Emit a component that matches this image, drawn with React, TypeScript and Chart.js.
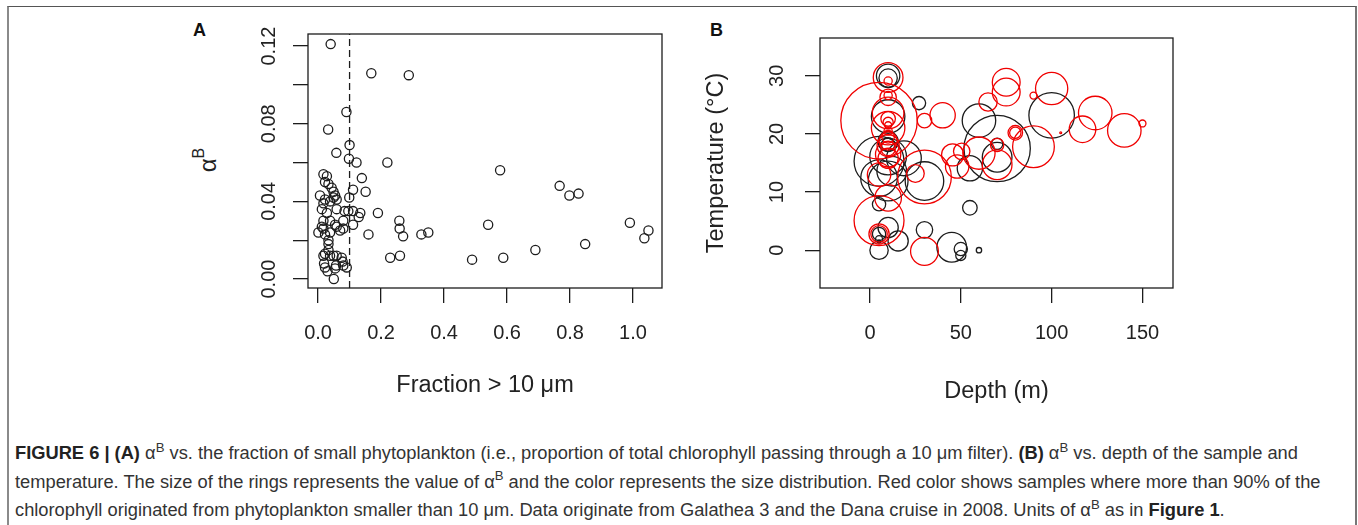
import React, { useEffect, useRef } from 'react';
import { Chart, registerables } from 'chart.js';

Chart.register(...registerables);

// ---------- Panel A data: fraction > 10 µm vs alpha^B ----------
const fractionA = [
  0.040, 0.169, 0.288, 0.090, 0.032, 0.100, 0.058, 0.098, 0.122, 0.220,
  0.578, 0.139, 0.767, 0.798, 0.827, 0.151, 0.111, 0.099, 0.190, 0.134,
  0.129, 0.111, 0.111, 0.160, 0.258, 0.259, 0.270, 0.328, 0.350, 0.229,
  0.260, 0.489, 0.540, 0.588, 0.690, 0.848, 0.990, 1.049, 1.036, 0.091,
  0.078, 0.050, 0.030, 0.057, 0.019, 0.080, 0.084,
  0.017, 0.028, 0.022, 0.033, 0.043, 0.049, 0.054, 0.049, 0.006, 0.022,
  0.038, 0.017, 0.059, 0.012, 0.028, 0.059, 0.096, 0.017, 0.038, 0.054,
  0.012, 0.017, 0.001, 0.038, 0.070, 0.080, 0.059, 0.022, 0.033, 0.033,
  0.033, 0.022, 0.038, 0.017, 0.049, 0.059, 0.075, 0.080, 0.022, 0.054,
];
const alphaA = [
  0.121, 0.106, 0.105, 0.086, 0.077, 0.069, 0.065, 0.062, 0.060, 0.060,
  0.056, 0.052, 0.048, 0.043, 0.044, 0.045, 0.046, 0.042, 0.034, 0.034,
  0.032, 0.035, 0.028, 0.023, 0.030, 0.026, 0.022, 0.023, 0.024, 0.011,
  0.012, 0.010, 0.028, 0.011, 0.015, 0.018, 0.029, 0.025, 0.021, 0.006,
  0.009, 0.000, 0.004, 0.007, 0.008, 0.030, 0.035,
  0.054, 0.053, 0.050, 0.049, 0.047, 0.045, 0.043, 0.042, 0.043, 0.041,
  0.040, 0.039, 0.041, 0.036, 0.034, 0.036, 0.035, 0.030, 0.030, 0.028,
  0.027, 0.026, 0.024, 0.024, 0.025, 0.026, 0.027, 0.023, 0.020, 0.018,
  0.015, 0.013, 0.012, 0.012, 0.012, 0.012, 0.011, 0.007, 0.006, 0.0055,
];
const cutoffA = 0.1;

// ---------- Panel B data: depth vs temperature, ring = alpha^B ----------
// red: > 90 % of chlorophyll from phytoplankton < 10 µm
const depthRed = [
  5, 10, 10, 10, 10, 10, 10, 10, 10, 10,
  10, 10, 10, 10, 10, 10, 10, 5, 25, 30,
  10, 5, 5, 5, 30, 30, 40, 65, 75, 75,
  90, 100, 124, 117, 140, 150, 80, 80, 90, 70,
  70, 60, 48, 45.5, 50.5, 105,
];
const tempRed = [
  22.3, 29.7, 29.1, 26.3, 26.6, 23.6, 22.6, 22.0, 21.5, 21.0,
  20.5, 19.5, 18.8, 18.0, 17.5, 16.5, 15.8, 13.0, 13.2, 12.6,
  9.0, 5.1, 2.8, 2.8, -0.2, 22.3, 23.2, 25.5, 28.9, 27.2,
  26.6, 27.8, 23.6, 20.8, 20.6, 21.8, 20.2, 20.2, 17.8, 18.1,
  14.7, 16.7, 14.4, 16.4, 17.0, 20.2,
];
const alphaRed = [
  0.121, 0.047, 0.013, 0.026, 0.013, 0.050, 0.023, 0.016, 0.011, 0.053,
  0.013, 0.020, 0.029, 0.035, 0.023, 0.040, 0.032, 0.037, 0.028, 0.085,
  0.042, 0.079, 0.032, 0.026, 0.044, 0.023, 0.040, 0.029, 0.044, 0.044,
  0.011, 0.051, 0.053, 0.042, 0.053, 0.011, 0.023, 0.018, 0.066, 0.021,
  0.047, 0.051, 0.037, 0.035, 0.026, 0.003,
];
const depthBlack = [
  10, 10, 27, 10, 10, 10, 5, 10, 12, 5,
  10, 18.7, 30, 5, 10, 15.5, 5, 5, 5, 5,
  30, 45, 50, 50, 60, 55, 55, 60, 70, 70,
  70, 100,
];
const tempBlack = [
  30.0, 29.6, 25.3, 23.0, 18.7, 18.2, 15.3, 16.1, 13.6, 12.4,
  11.9, 15.8, 11.9, 7.9, 3.9, 1.6, 0.0, 2.8, 1.9, 1.5,
  3.5, 0.5, 0.2, -0.9, 0.0, 7.3, 14.1, 22.3, 17.5, 16.0,
  18.3, 23.2,
];
const alphaBlack = [
  0.037, 0.029, 0.021, 0.053, 0.032, 0.021, 0.079, 0.058, 0.047, 0.058,
  0.063, 0.055, 0.061, 0.021, 0.032, 0.032, 0.029, 0.021, 0.011, 0.005,
  0.026, 0.047, 0.021, 0.016, 0.0085, 0.023, 0.040, 0.053, 0.105, 0.047,
  0.018, 0.072,
];

// ---------- ticks ----------
const aXTicks = [0, 0.2, 0.4, 0.6, 0.8, 1.0];
const aXLabels = ['0.0', '0.2', '0.4', '0.6', '0.8', '1.0'];
const aYTicks = [0, 0.02, 0.04, 0.06, 0.08, 0.1, 0.12];
const aYLabels = ['0.00', '', '0.04', '', '0.08', '', '0.12'];
const bXTicks = [0, 50, 100, 150];
const bXLabels = ['0', '50', '100', '150'];
const bYTicks = [0, 10, 20, 30];
const bYLabels = ['0', '10', '20', '30'];

const aXRange = [-0.032, 1.092];
const aYRange = [-0.0046, 0.1262];
const bXRange = [-27.5, 166.8];
const bYRange = [-6.5, 36.5];

// ---------- styles ----------
const FONT = '"Liberation Sans", Arial, Helvetica, sans-serif';
const INK = '#1c1c1c';
const RED = '#f00000';
const RING_SCALE = 316; // px of ring radius per unit of alpha^B
const LW = 1.3;

const boxPlugin = {
  id: 'rbox',
  afterDatasetsDraw(chart: any) {
    const { ctx, chartArea: a } = chart;
    ctx.save();
    ctx.strokeStyle = INK;
    ctx.lineWidth = LW;
    ctx.strokeRect(a.left, a.top, a.right - a.left, a.bottom - a.top);
    ctx.restore();
  },
};

function makeScale(
  range: number[],
  tickValues: number[],
  tickLabels: string[],
  size: number,
  tickExtra: any,
  title: any
) {
  return {
    type: 'linear',
    min: range[0],
    max: range[1],
    afterBuildTicks: (s: any) => {
      s.ticks = tickValues.map((v) => ({ value: v }));
    },
    afterFit: (s: any) => {
      if (s.isHorizontal()) s.height = size;
      else s.width = size;
    },
    border: { display: false },
    grid: {
      drawOnChartArea: false,
      drawTicks: true,
      tickLength: 15,
      color: INK,
      lineWidth: LW,
    },
    ticks: {
      autoSkip: false,
      includeBounds: false,
      color: '#222',
      font: { family: FONT, size: 20 },
      callback: (_v: any, i: number) => tickLabels[i] ?? '',
      ...tickExtra,
    },
    title,
  };
}

function useChart(ref: React.RefObject<HTMLCanvasElement>, build: () => any) {
  useEffect(() => {
    if (!ref.current) return;
    const chart = new Chart(ref.current, build());
    return () => chart.destroy();
  }, []);
}

export default function App() {
  const refA = useRef<HTMLCanvasElement>(null);
  const refB = useRef<HTMLCanvasElement>(null);

  useChart(refA, () => ({
    type: 'scatter',
    data: {
      datasets: [
        {
          data: fractionA.map((x, i) => ({ x, y: alphaA[i] })),
          pointRadius: 4.6,
          pointBorderWidth: LW,
          pointBorderColor: INK,
          pointBackgroundColor: 'rgba(0,0,0,0)',
          showLine: false,
        },
        {
          type: 'line',
          data: [
            { x: cutoffA, y: aYRange[0] },
            { x: cutoffA, y: aYRange[1] },
          ],
          borderColor: INK,
          borderWidth: LW,
          borderDash: [7, 4],
          pointRadius: 0,
          fill: false,
        },
      ],
    },
    options: {
      animation: false,
      responsive: false,
      events: [],
      plugins: { legend: { display: false }, tooltip: { enabled: false } },
      layout: { autoPadding: false, padding: { left: 0, top: 24, right: 18, bottom: 0 } },
      scales: {
        x: makeScale(aXRange, aXTicks, aXLabels, 122, { padding: 18 }, {
          display: true,
          text: 'Fraction > 10 \u03bcm',
          color: '#222',
          font: { family: FONT, size: 23.5 },
          padding: { top: 0, bottom: 10 },
        }),
        y: makeScale(aYRange, aYTicks, aYLabels, 118, {
          minRotation: 90,
          maxRotation: 90,
          crossAlign: 'center',
          padding: 4,
        }, { display: false }),
      },
    },
    plugins: [boxPlugin],
  }));

  useChart(refB, () => ({
    type: 'scatter',
    data: {
      datasets: [
        {
          data: depthRed.map((x, i) => ({ x, y: tempRed[i], a: alphaRed[i] })),
          pointRadius: (c: any) => c.raw.a * RING_SCALE,
          pointBorderWidth: LW,
          pointBorderColor: RED,
          pointBackgroundColor: 'rgba(0,0,0,0)',
        },
        {
          data: depthBlack.map((x, i) => ({ x, y: tempBlack[i], a: alphaBlack[i] })),
          pointRadius: (c: any) => c.raw.a * RING_SCALE,
          pointBorderWidth: LW,
          pointBorderColor: INK,
          pointBackgroundColor: 'rgba(0,0,0,0)',
        },
      ],
    },
    options: {
      animation: false,
      responsive: false,
      events: [],
      plugins: { legend: { display: false }, tooltip: { enabled: false } },
      layout: { autoPadding: false, padding: { left: 0, top: 25, right: 27, bottom: 0 } },
      scales: {
        x: makeScale(bXRange, bXTicks, bXLabels, 122, { padding: 18 }, {
          display: true,
          text: 'Depth (m)',
          color: '#222',
          font: { family: FONT, size: 23.5 },
          padding: { top: 0, bottom: 4 },
        }),
        y: makeScale(bYRange, bYTicks, bYLabels, 130, {
          minRotation: 90,
          maxRotation: 90,
          crossAlign: 'center',
          padding: 16,
        }, {
          display: true,
          text: 'Temperature (\u00b0C)',
          color: '#222',
          font: { family: FONT, size: 23.5 },
          padding: { top: 12, bottom: 0 },
        }),
      },
    },
    plugins: [boxPlugin],
  }));

  const sup = (t: string) => (
    <span style={{ fontSize: '0.72em', position: 'relative', top: '-0.55em' }}>{t}</span>
  );

  return (
    <div
      style={{
        position: 'fixed',
        left: 0,
        top: 0,
        width: 1358,
        height: 525,
        overflow: 'hidden',
        background: '#fff',
        fontFamily: FONT,
      }}
    >
      <div
        style={{
          position: 'absolute',
          left: 7,
          top: 6,
          width: 1350,
          height: 560,
          boxSizing: 'border-box',
          borderTop: '1px solid #555',
          borderLeft: '2px solid #8a8a8a',
          borderRight: '2px solid #777',
        }}
      />
      <div style={{ position: 'absolute', left: 193, top: 20, fontSize: 18, fontWeight: 700, color: '#111' }}>A</div>
      <div style={{ position: 'absolute', left: 710, top: 20, fontSize: 18, fontWeight: 700, color: '#111' }}>B</div>
      <div
        style={{
          position: 'absolute',
          left: 208,
          top: 160,
          fontSize: 24,
          color: '#222',
          whiteSpace: 'nowrap',
          transform: 'translate(-50%, -50%) rotate(-90deg)',
        }}
      >
        {'\u03b1'}
        <span style={{ fontSize: 16, position: 'relative', top: -12 }}>B</span>
      </div>
      <canvas ref={refA} width={490} height={400} style={{ position: 'absolute', left: 190, top: 10 }} />
      <canvas ref={refB} width={510} height={400} style={{ position: 'absolute', left: 690, top: 10 }} />
      <div
        style={{
          position: 'absolute',
          left: 15,
          top: 440,
          fontSize: 18.3,
          lineHeight: '26.5px',
          color: '#333',
          whiteSpace: 'nowrap',
        }}
      >
        <b style={{ color: '#222' }}>FIGURE 6 | (A)</b> {'\u03b1'}{sup('B')} vs. the fraction of small phytoplankton (i.e., proportion of total chlorophyll passing through a 10 {'\u03bc'}m filter). <b style={{ color: '#222' }}>(B)</b> {'\u03b1'}{sup('B')} vs. depth of the sample and
        <br />
        temperature. The size of the rings represents the value of {'\u03b1'}{sup('B')} and the color represents the size distribution. Red color shows samples where more than 90% of the
        <br />
        chlorophyll originated from phytoplankton smaller than 10 {'\u03bc'}m. Data originate from Galathea 3 and the Dana cruise in 2008. Units of {'\u03b1'}{sup('B')} as in <b style={{ color: '#222' }}>Figure 1</b>.
      </div>
    </div>
  );
}
